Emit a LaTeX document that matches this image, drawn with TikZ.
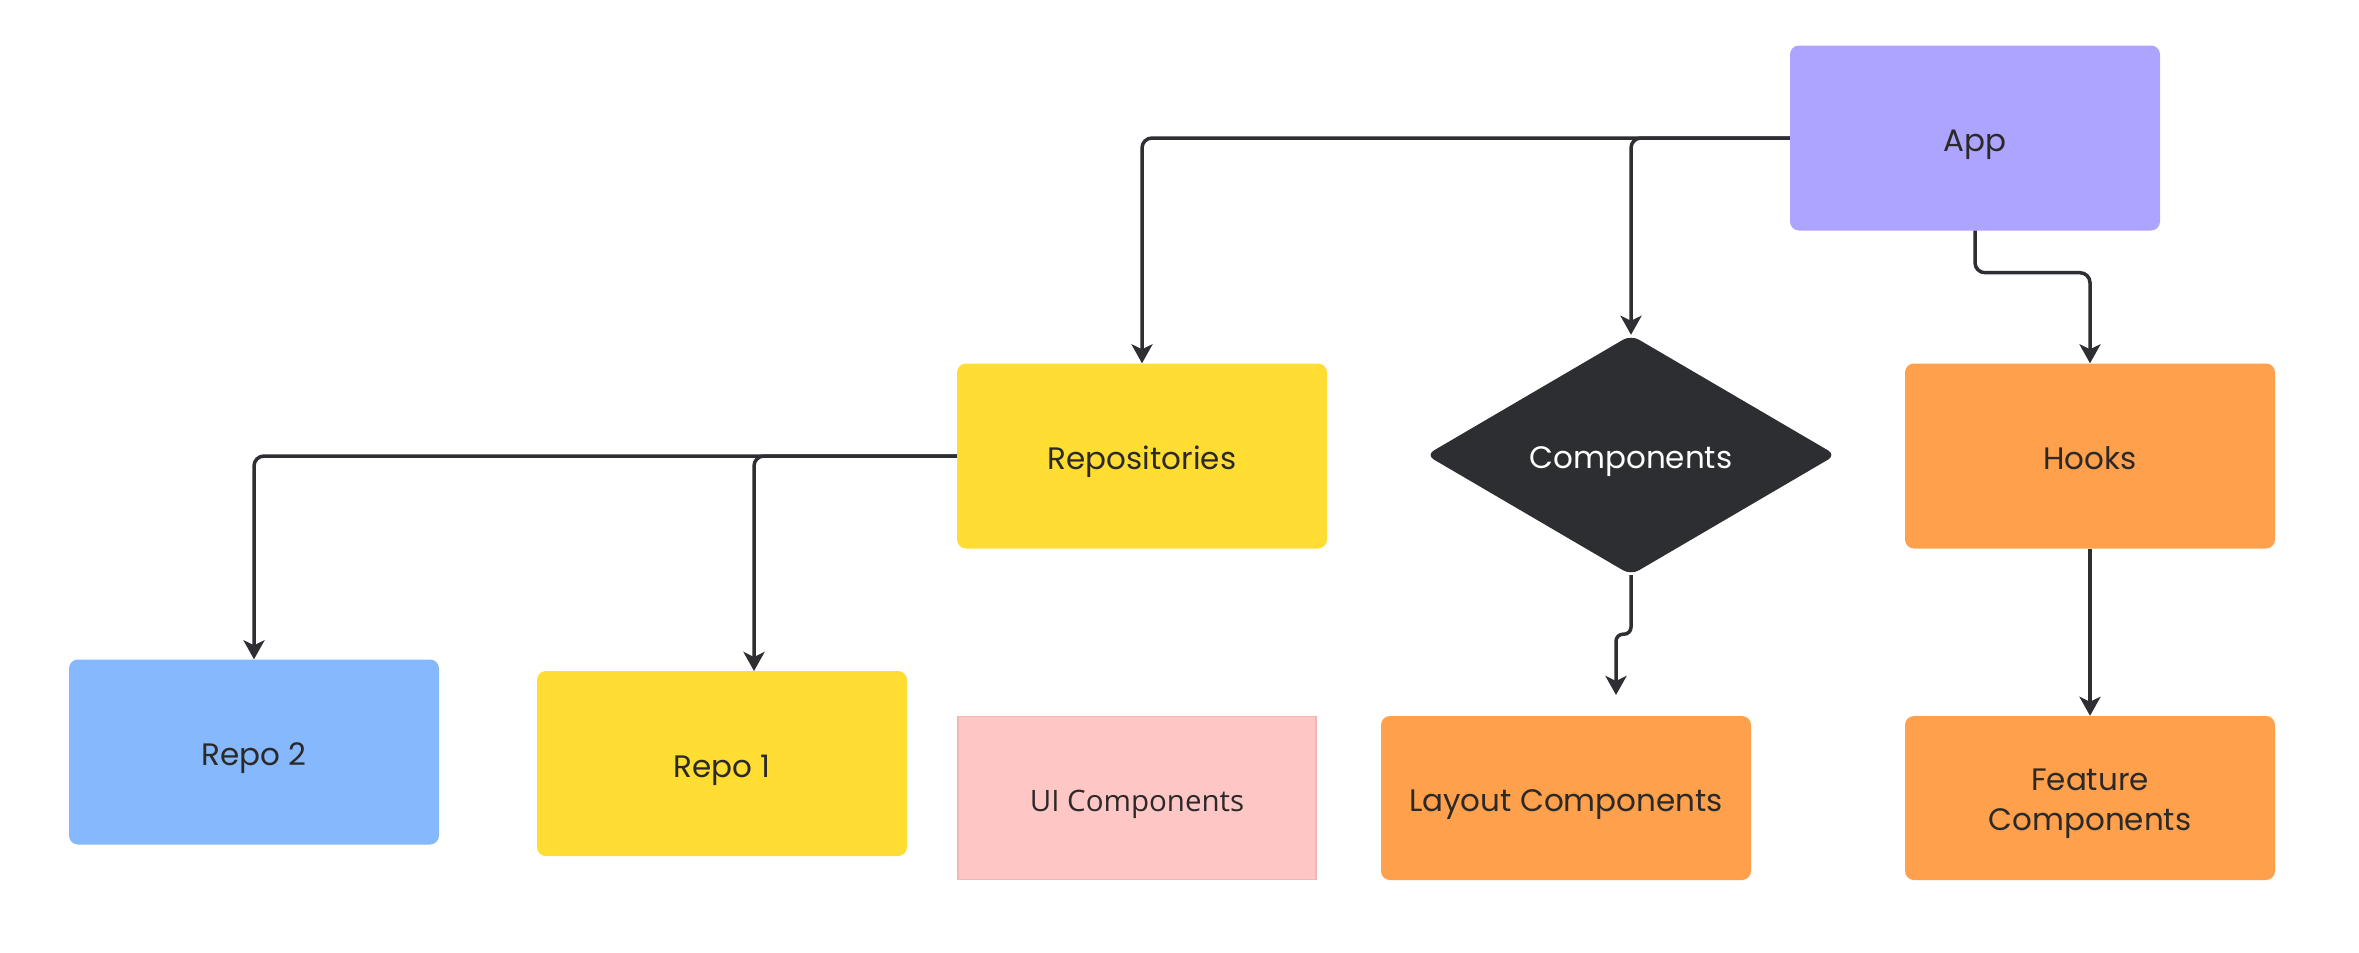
\documentclass[tikz,border=0pt]{standalone}
\usepackage{fontspec}
\setmainfont{Poppins}
\newfontfamily\uifont{Open Sans}
\usetikzlibrary{shapes.geometric,arrows.meta}
\definecolor{appc}{HTML}{ACA4FE}
\definecolor{yel}{HTML}{FFDD33}
\definecolor{dia}{HTML}{2D2E32}
\definecolor{ora}{HTML}{FFA04D}
\definecolor{blu}{HTML}{85B8FD}
\definecolor{pnk}{HTML}{FFC6C6}
\definecolor{pnkb}{HTML}{F2B6B6}
\definecolor{linec}{HTML}{2F2F33}
\definecolor{txt}{HTML}{2B2A28}
\tikzset{
  box/.style={rectangle, rounded corners=9pt, draw=none, minimum width=370pt, minimum height=185pt,
    inner sep=0pt, text=txt, font=\fontsize{31}{40}\selectfont, align=center},
  boxline/.style={box, text height=27.5pt, text depth=0pt},
  conn/.style={draw=linec, line width=3.5pt, rounded corners=10pt,
    -{Stealth[length=19pt, width=21pt, inset=5pt]}},
}
\begin{document}
\begin{tikzpicture}[x=1pt, y=-1pt]
\useasboundingbox (0,0) rectangle (2359,953);
\fill[white] (0,0) rectangle (2359,953);
\node[boxline, fill=appc] (app) at (1975,138) {App};
\node[boxline, fill=yel] (repos) at (1142,456) {Repositories};
\node[diamond, fill=dia, rounded corners=9pt, minimum width=410pt, minimum height=240pt, inner sep=0pt,
  text=white, font=\fontsize{31}{40}\selectfont, text height=27.5pt, text depth=0pt] (comp) at (1631,455) {Components};
\node[boxline, fill=ora] (hooks) at (2090,456) {Hooks};
\node[boxline, fill=blu] (repo2) at (254,752) {Repo 2};
\node[boxline, fill=yel] (repo1) at (722,763.5) {Repo 1};
\node[rectangle, fill=pnk, draw=pnkb, line width=1.5pt, minimum width=358pt, minimum height=163pt,
  inner sep=0pt, text=txt, font=\uifont\fontsize{29.5}{34}\selectfont, text height=27pt, text depth=0pt] (ui) at (1137,798) {UI Components};
\node[boxline, fill=ora, minimum height=164pt] (layout) at (1566,798) {Layout Components};
\node[box, fill=ora, minimum height=164pt] (feature) at (2090,798) {\rule{0pt}{34pt}Feature\\Components};
\coordinate (lend) at (1616,695);
\coordinate (r1in) at (754,671);
\draw[conn] (app.west) -| (repos.north);
\draw[conn] (app.west) -| (comp.north);
\draw[conn] (app.south) -- ++(0,42) -| (hooks.north);
\draw[conn] (repos.west) -| (repo2.north);
\draw[conn] (repos.west) -| (r1in);
\draw[conn, rounded corners=7pt] (comp.south) -- ++(0,59) -| (lend);
\draw[conn] (hooks.south) -- (feature.north);
\end{tikzpicture}
\end{document}
